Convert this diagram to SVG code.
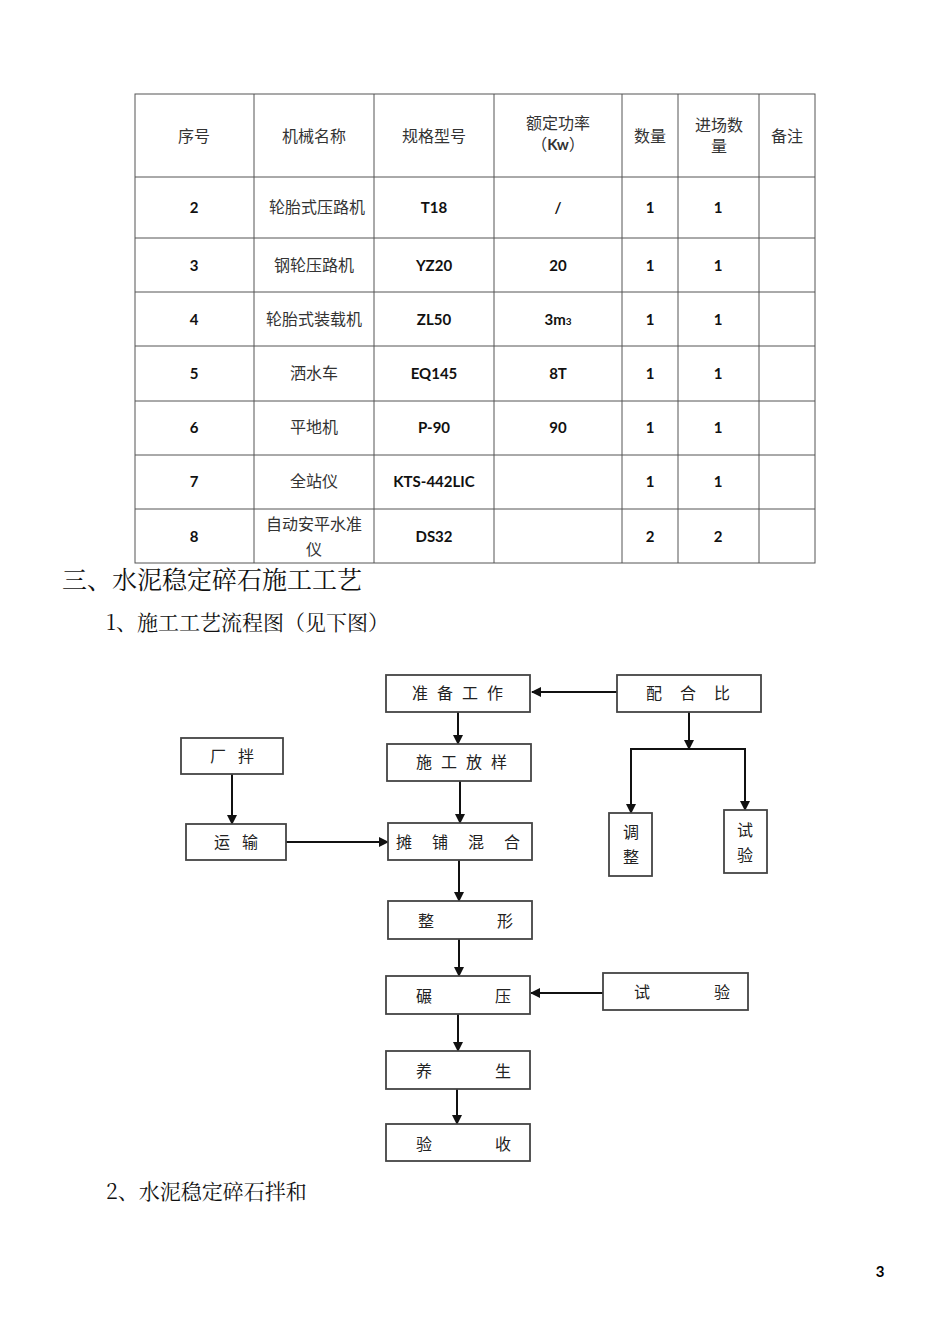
<svg xmlns="http://www.w3.org/2000/svg" width="950" height="1344" viewBox="0 0 950 1344">
<defs>
<marker id="ah" markerWidth="10" markerHeight="10" refX="9" refY="5" orient="auto" markerUnits="userSpaceOnUse"><path d="M0,0 L10,5 L0,10 z" fill="#111"/></marker>
<style>
.t{font-family:"Noto Sans CJK SC","Liberation Sans",sans-serif;font-size:16px;fill:#333;text-anchor:middle}
.b{font-family:"Lato","Liberation Sans","Noto Sans CJK SC",sans-serif;font-size:15px;font-weight:bold;fill:#111;text-anchor:middle}
.g{stroke:#555;stroke-width:1;fill:none}
.bx{fill:#fff;stroke:#444;stroke-width:1.8}
.f{font-family:"Noto Sans CJK SC",serif;font-size:16px;fill:#222;text-anchor:middle}
.c{stroke:#111;stroke-width:2;fill:none}
.h{font-family:"Noto Serif CJK SC","Noto Sans CJK SC",serif;fill:#111}
</style>
</defs>
<rect width="950" height="1344" fill="#fff"/>
<g id="table">
<rect x="135" y="94" width="680" height="469" class="g"/>
<path class="g" d="M254,94V563M374,94V563M494,94V563M622,94V563M678,94V563M759,94V563M135,177H815M135,238H815M135,292H815M135,346H815M135,401H815M135,455H815M135,509H815"/>
<text class="t" x="194" y="142">序号</text><text class="t" x="314" y="142">机械名称</text><text class="t" x="434" y="142">规格型号</text>
<text class="t" x="558" y="129">额定功率</text><text class="t" x="558" y="150">（<tspan font-family="Lato" font-weight="bold" font-size="15">Kw</tspan>）</text>
<text class="t" x="650" y="142">数量</text><text class="t" x="719" y="131">进场数</text><text class="t" x="719" y="152">量</text><text class="t" x="787" y="142">备注</text>
<g>
<text class="b" x="194" y="213">2</text><text class="t" x="317" y="213">轮胎式压路机</text><text class="b" x="434" y="213">T18</text><text class="b" x="558" y="213">/</text><text class="b" x="650" y="213">1</text><text class="b" x="718" y="213">1</text>
<text class="b" x="194" y="271">3</text><text class="t" x="314" y="271">钢轮压路机</text><text class="b" x="434" y="271">YZ20</text><text class="b" x="558" y="271">20</text><text class="b" x="650" y="271">1</text><text class="b" x="718" y="271">1</text>
<text class="b" x="194" y="325">4</text><text class="t" x="314" y="325">轮胎式装载机</text><text class="b" x="434" y="325">ZL50</text><text class="b" x="558" y="325">3m<tspan font-size="10">3</tspan></text><text class="b" x="650" y="325">1</text><text class="b" x="718" y="325">1</text>
<text class="b" x="194" y="379">5</text><text class="t" x="314" y="379">洒水车</text><text class="b" x="434" y="379">EQ145</text><text class="b" x="558" y="379">8T</text><text class="b" x="650" y="379">1</text><text class="b" x="718" y="379">1</text>
<text class="b" x="194" y="433">6</text><text class="t" x="314" y="433">平地机</text><text class="b" x="434" y="433">P-90</text><text class="b" x="558" y="433">90</text><text class="b" x="650" y="433">1</text><text class="b" x="718" y="433">1</text>
<text class="b" x="194" y="487">7</text><text class="t" x="314" y="487">全站仪</text><text class="b" x="434" y="487">KTS-442LIC</text><text class="b" x="650" y="487">1</text><text class="b" x="718" y="487">1</text>
<text class="b" x="194" y="542">8</text><text class="t" x="314" y="530">自动安平水准</text><text class="t" x="314" y="555">仪</text><text class="b" x="434" y="542">DS32</text><text class="b" x="650" y="542">2</text><text class="b" x="718" y="542">2</text>
</g>
</g>
<text class="h" x="62" y="589" font-size="25">三、水泥稳定碎石施工工艺</text>
<text class="h" x="106" y="630" font-size="21">1、施工工艺流程图（见下图）</text>
<text class="h" x="106" y="1199" font-size="21">2、水泥稳定碎石拌和</text>
<text x="880" y="1277" font-family="Lato,'Liberation Sans',sans-serif" font-weight="bold" font-size="15" text-anchor="middle">3</text>
<g id="connectors">
<path class="c" d="M617,692H532" marker-end="url(#ah)"/>
<path class="c" d="M458,712V744" marker-end="url(#ah)"/>
<path class="c" d="M689,712V749"  marker-end="url(#ah)"/>
<path class="c" d="M631,813V749H745V810"/>
<path class="c" d="M631,800V813" marker-end="url(#ah)"/>
<path class="c" d="M745,797V810" marker-end="url(#ah)"/>
<path class="c" d="M232,774V824" marker-end="url(#ah)"/>
<path class="c" d="M286,842H388" marker-end="url(#ah)"/>
<path class="c" d="M460,781V823" marker-end="url(#ah)"/>
<path class="c" d="M459,860V901" marker-end="url(#ah)"/>
<path class="c" d="M459,939V976" marker-end="url(#ah)"/>
<path class="c" d="M603,993H531" marker-end="url(#ah)"/>
<path class="c" d="M458,1014V1051" marker-end="url(#ah)"/>
<path class="c" d="M457,1089V1124" marker-end="url(#ah)"/>
</g>
<g id="n1"><rect class="bx" x="386" y="675" width="144" height="37"/><text class="f" x="462" y="699" letter-spacing="9">准备工作</text></g>
<g id="n2"><rect class="bx" x="617" y="675" width="144" height="37"/><text class="f" x="697" y="699" letter-spacing="18">配合比</text></g>
<g id="n3"><rect class="bx" x="181" y="738" width="102" height="36"/><text class="f" x="238" y="762" letter-spacing="12">厂拌</text></g>
<g id="n4"><rect class="bx" x="387" y="744" width="144" height="37"/><text class="f" x="466" y="768" letter-spacing="9">施工放样</text></g>
<g id="n5"><rect class="bx" x="186" y="824" width="100" height="36"/><text class="f" x="242" y="848" letter-spacing="12">运输</text></g>
<g id="n6"><rect class="bx" x="388" y="823" width="144" height="37"/><text class="f" x="468" y="848" letter-spacing="20">摊铺混合</text></g>
<g id="n7"><rect class="bx" x="609" y="813" width="43" height="63"/><text class="f" x="631" y="838">调</text><text class="f" x="631" y="863">整</text></g>
<g id="n8"><rect class="bx" x="724" y="810" width="43" height="63"/><text class="f" x="745" y="836">试</text><text class="f" x="745" y="861">验</text></g>
<g id="n9"><rect class="bx" x="388" y="901" width="144" height="38"/><text class="f" x="426" y="927">整</text><text class="f" x="505" y="927">形</text></g>
<g id="n10"><rect class="bx" x="386" y="976" width="144" height="38"/><text class="f" x="424" y="1002">碾</text><text class="f" x="503" y="1002">压</text></g>
<g id="n11"><rect class="bx" x="603" y="973" width="145" height="37"/><text class="f" x="642" y="998">试</text><text class="f" x="722" y="998">验</text></g>
<g id="n12"><rect class="bx" x="386" y="1051" width="144" height="38"/><text class="f" x="424" y="1077">养</text><text class="f" x="503" y="1077">生</text></g>
<g id="n13"><rect class="bx" x="386" y="1124" width="144" height="37"/><text class="f" x="424" y="1150">验</text><text class="f" x="503" y="1150">收</text></g>
</svg>
